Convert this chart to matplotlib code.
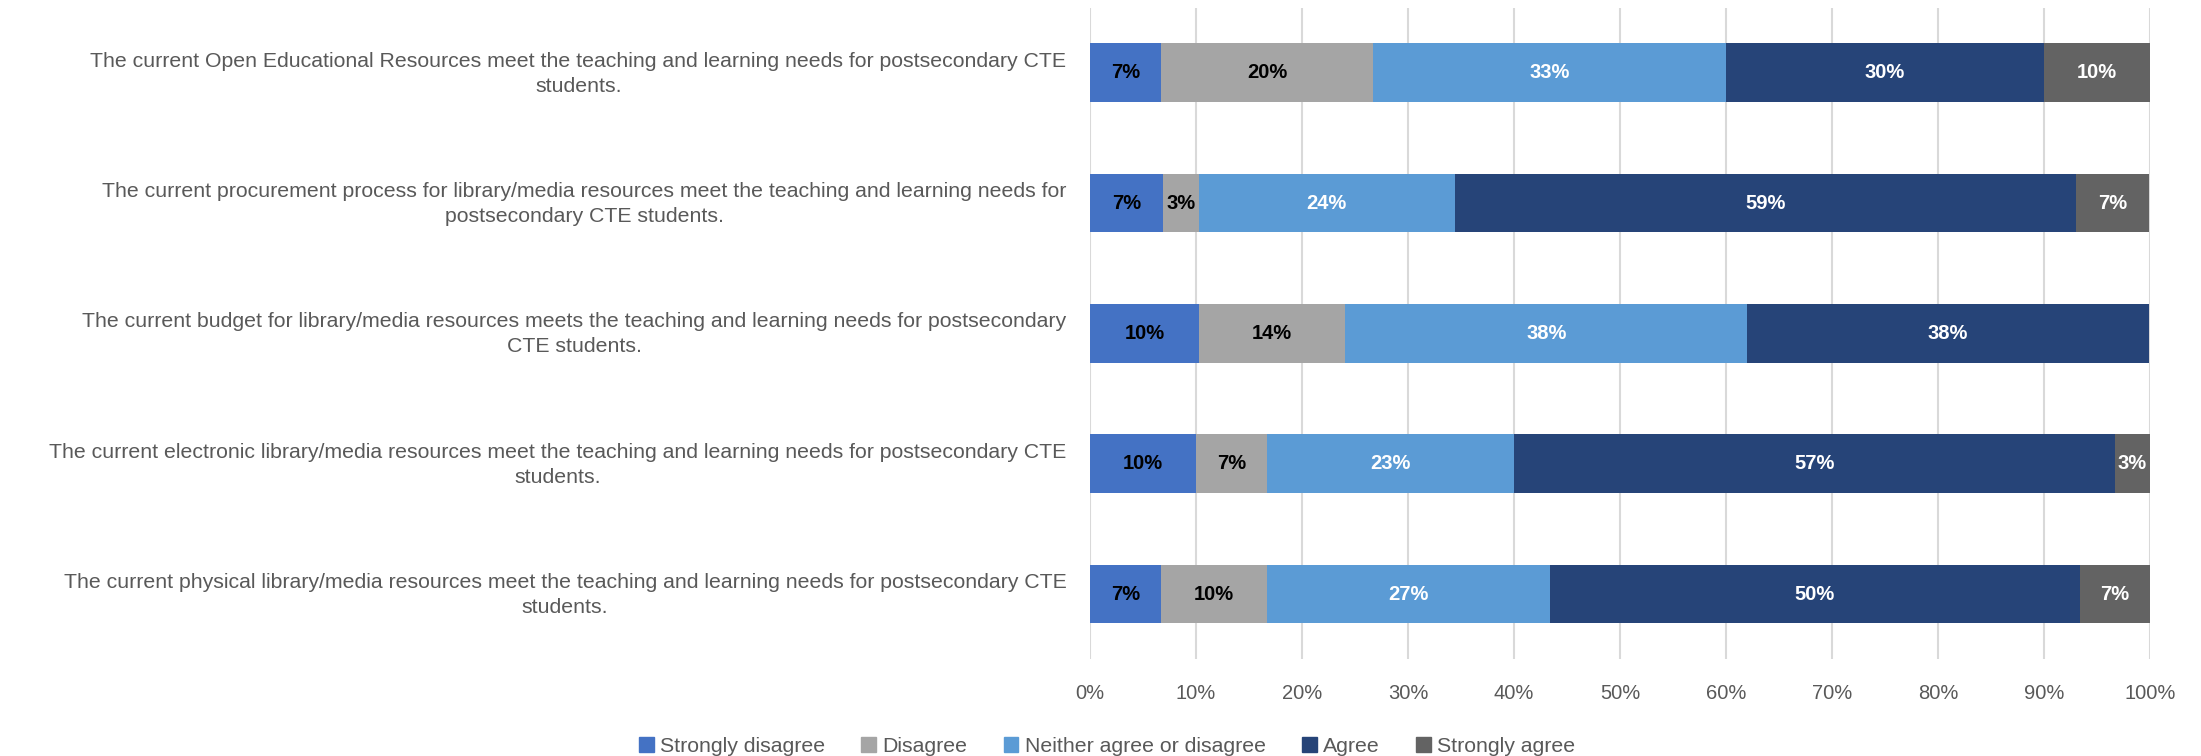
import matplotlib
matplotlib.use('Agg')
from matplotlib import pyplot as plt
from matplotlib.patches import Rectangle
import matplotlib.transforms as mtransforms
import numpy as np

plt.rcParams['font.family'] = ['Liberation Sans', 'DejaVu Sans']

questions = [
    'The current Open Educational Resources meet the teaching and learning needs for postsecondary CTE\nstudents.',
    'The current procurement process for library/media resources meet the teaching and learning needs for\npostsecondary CTE students.',
    'The current budget for library/media resources meets the teaching and learning needs for postsecondary\nCTE students.',
    'The current electronic library/media resources meet the teaching and learning needs for postsecondary CTE\nstudents.',
    'The current physical library/media resources meet the teaching and learning needs for postsecondary CTE\nstudents.',
]
responses = ['Strongly disagree', 'Disagree', 'Neither agree or disagree', 'Agree', 'Strongly agree']

# percent of respondents, one list per response, in question order (top to bottom)
strongly_disagree = [6.7, 6.9, 10.3, 10.0, 6.7]
disagree = [20.0, 3.4, 13.8, 6.7, 10.0]
neither = [33.3, 24.1, 37.9, 23.3, 26.7]
agree = [30.0, 58.6, 37.9, 56.7, 50.0]
strongly_agree = [10.0, 6.9, 0.0, 3.3, 6.7]

series = [strongly_disagree, disagree, neither, agree, strongly_agree]
colors = ['#4472C4', '#A5A5A5', '#5B9BD5', '#264478', '#636363']
label_colors = ['black', 'black', 'white', 'white', 'white']

fig = plt.figure(figsize=(22.01, 7.56), dpi=100)
ax = fig.add_axes([0.4952, 0.128, 0.4816, 0.862])

y = np.arange(len(questions))
left = np.zeros(len(questions))
for vals, c, lc, name in zip(series, colors, label_colors, responses):
    vals = np.array(vals)
    bars = ax.barh(y, vals, left=left, height=0.45, color=c, label=name, zorder=3)
    labels = ['%d%%' % round(v) if v > 0 else '' for v in vals]
    ax.bar_label(bars, labels=labels, label_type='center', color=lc,
                 fontsize=14.5, fontweight='bold')
    left += vals

ax.set_xlim(0, 100)
ax.set_ylim(len(questions) - 0.5, -0.5)
ax.set_xticks(np.arange(0, 101, 10))
ax.set_xticklabels(['%d%%' % t for t in range(0, 101, 10)])
ax.set_yticks(y)
ax.set_yticklabels(questions, multialignment='center', linespacing=1.4)
ax.tick_params(axis='x', length=0, pad=18, labelsize=14.5, labelcolor='#595959')
ax.tick_params(axis='y', length=0, pad=17, labelsize=15.3, labelcolor='#595959')
# nudge the wrapped question labels up a few pixels
shift = mtransforms.ScaledTranslation(0, 4 / 100, fig.dpi_scale_trans)
for lab in ax.get_yticklabels():
    lab.set_transform(lab.get_transform() + shift)
ax.grid(axis='x', color='#D9D9D9', linewidth=1.5, zorder=0)
for s in ax.spines.values():
    s.set_visible(False)

handles = [Rectangle((0, 0), 1, 1, color=c) for c in colors]
fig.legend(handles, responses, loc='lower center', bbox_to_anchor=(0.503, -0.008),
           ncol=5, frameon=False, fontsize=15.3, handlelength=0.7, handleheight=0.7,
           handletextpad=0.3, columnspacing=1.7, labelcolor='#595959',
           borderaxespad=0.1, borderpad=0.2)

fig.savefig('out.png', dpi=100)
